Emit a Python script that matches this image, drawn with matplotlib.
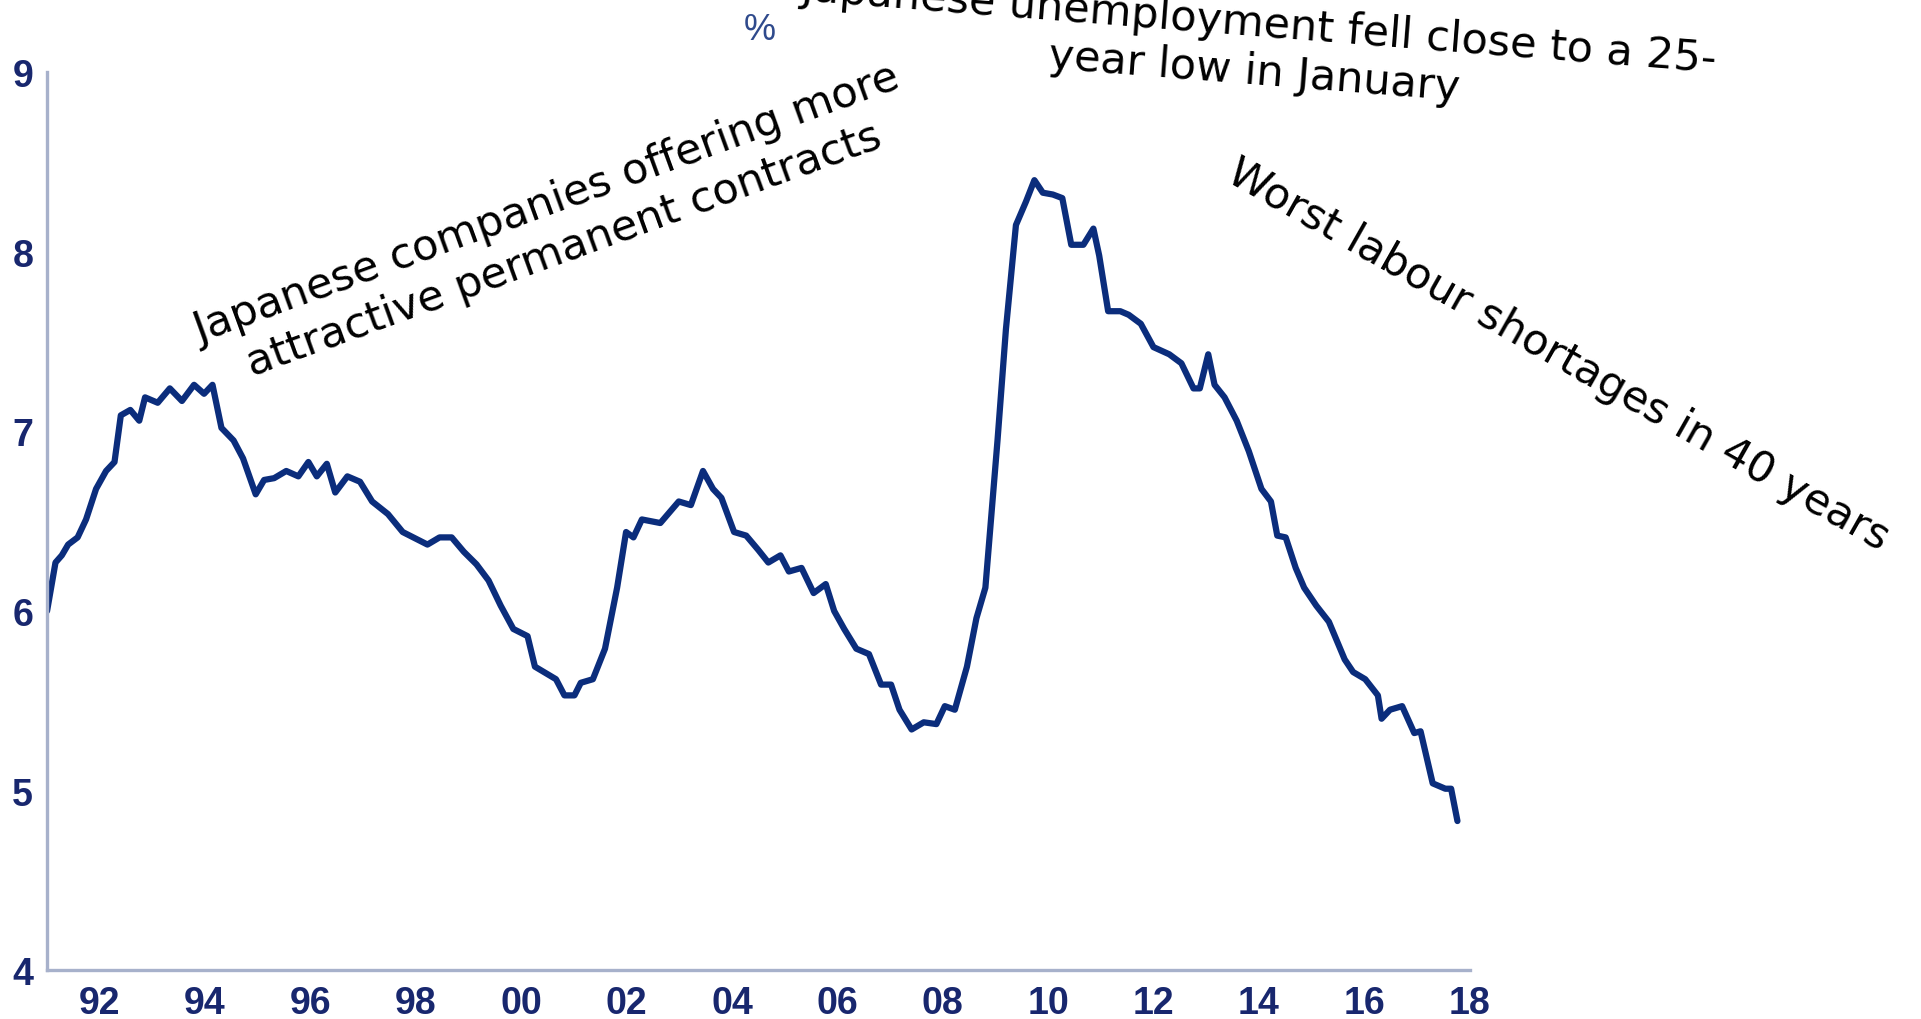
import matplotlib
matplotlib.use("Agg")
import matplotlib.pyplot as plt

# Monthly-ish readings of the rate (%), by decimal year
years = [1991.00, 1991.16, 1991.28, 1991.40, 1991.58, 1991.74, 1991.93, 1992.12, 1992.28, 1992.40,
         1992.58, 1992.75, 1992.86, 1993.10, 1993.33, 1993.56, 1993.79, 1993.98, 1994.14, 1994.31,
         1994.54, 1994.72, 1994.96, 1995.12, 1995.31, 1995.54, 1995.77, 1995.96, 1996.12, 1996.31,
         1996.47, 1996.70, 1996.94, 1997.17, 1997.47, 1997.75, 1998.22, 1998.45, 1998.68, 1998.91,
         1999.15, 1999.38, 1999.61, 1999.85, 2000.12, 2000.26, 2000.43, 2000.66, 2000.82, 2001.01,
         2001.13, 2001.36, 2001.59, 2001.82, 2001.99, 2002.13, 2002.29, 2002.64, 2002.99, 2003.22,
         2003.45, 2003.64, 2003.80, 2004.04, 2004.27, 2004.50, 2004.69, 2004.92, 2005.08, 2005.32,
         2005.55, 2005.78, 2005.94, 2006.13, 2006.36, 2006.60, 2006.83, 2007.02, 2007.18, 2007.41,
         2007.64, 2007.88, 2008.04, 2008.23, 2008.46, 2008.64, 2008.81, 2009.04, 2009.20, 2009.39,
         2009.58, 2009.74, 2009.90, 2010.09, 2010.27, 2010.44, 2010.67, 2010.86, 2010.97, 2011.14,
         2011.37, 2011.53, 2011.76, 2012.00, 2012.30, 2012.53, 2012.76, 2012.88, 2013.04, 2013.16,
         2013.35, 2013.58, 2013.81, 2014.05, 2014.23, 2014.35, 2014.51, 2014.70, 2014.86, 2015.09,
         2015.33, 2015.63, 2015.79, 2016.02, 2016.26, 2016.33, 2016.49, 2016.72, 2016.95, 2017.07,
         2017.30, 2017.54, 2017.65, 2017.77]
rate = [6.00, 6.27, 6.31, 6.37, 6.41, 6.51, 6.68, 6.78, 6.83, 7.09,
        7.12, 7.06, 7.19, 7.16, 7.24, 7.17, 7.26, 7.21, 7.26, 7.02,
        6.95, 6.85, 6.65, 6.73, 6.74, 6.78, 6.75, 6.83, 6.75, 6.82,
        6.66, 6.75, 6.72, 6.61, 6.54, 6.44, 6.37, 6.41, 6.41, 6.33,
        6.26, 6.17, 6.03, 5.90, 5.86, 5.69, 5.66, 5.62, 5.53, 5.53,
        5.60, 5.62, 5.79, 6.13, 6.44, 6.41, 6.51, 6.49, 6.61, 6.59,
        6.78, 6.68, 6.63, 6.44, 6.42, 6.34, 6.27, 6.31, 6.22, 6.24,
        6.10, 6.15, 6.00, 5.90, 5.79, 5.76, 5.59, 5.59, 5.45, 5.34,
        5.38, 5.37, 5.47, 5.45, 5.69, 5.96, 6.13, 6.95, 7.57, 8.15,
        8.28, 8.40, 8.33, 8.32, 8.30, 8.04, 8.04, 8.13, 7.98, 7.67,
        7.67, 7.65, 7.60, 7.47, 7.43, 7.38, 7.24, 7.24, 7.43, 7.26,
        7.19, 7.06, 6.89, 6.68, 6.61, 6.42, 6.41, 6.24, 6.13, 6.03,
        5.94, 5.73, 5.66, 5.62, 5.53, 5.40, 5.45, 5.47, 5.32, 5.33,
        5.04, 5.01, 5.01, 4.83]

xtick_pos = [1992, 1994, 1996, 1998, 2000, 2002, 2004, 2006, 2008, 2010, 2012, 2014, 2016, 2018]
xtick_labels = ["92", "94", "96", "98", "00", "02", "04", "06", "08", "10", "12", "14", "16", "18"]
ytick_pos = [4, 5, 6, 7, 8, 9]
ytick_labels = ["4", "5", "6", "7", "8", "9"]

LINE = "#0b2d7c"
TICK = "#18276e"
SPINE = "#a7b1cb"

fig = plt.figure(figsize=(19.21, 10.20), dpi=100)
ax = fig.add_axes([0.0245, 0.048, 0.7405, 0.880])

ax.plot(years, rate, color=LINE, lw=4.5, solid_joinstyle="round", solid_capstyle="round")

ax.set_xlim(1991, 2018)
ax.set_ylim(4, 9)

for s in ("top", "right"):
    ax.spines[s].set_visible(False)
for s in ("left", "bottom"):
    ax.spines[s].set_color(SPINE)
    ax.spines[s].set_linewidth(2.4)

ax.set_xticks(xtick_pos)
ax.set_xticklabels(xtick_labels, family=["Liberation Sans Narrow", "Liberation Sans"],
                   fontweight="bold", fontsize=27, color=TICK)
ax.set_yticks(ytick_pos)
ax.set_yticklabels(ytick_labels, family="Liberation Sans", fontweight="bold",
                   fontsize=27, color=TICK)
ax.tick_params(axis="x", length=0, pad=11)
ax.tick_params(axis="y", length=0, pad=10)

fig.text(0.3955, 0.970, "%", ha="center", va="center", color="#2f4a8c", fontsize=26,
         family=["Liberation Sans Narrow", "Liberation Sans"])

txt = dict(family="DejaVu Sans", color="black", fontsize=31, ha="center", va="center",
           rotation_mode="anchor", multialignment="center")
fig.text(0.289, 0.777, "Japanese companies offering more\nattractive permanent contracts",
         rotation=20, **txt)
fig.text(0.654, 0.953, "Japanese unemployment fell close to a 25-\nyear low in January",
         rotation=-4.5, **txt)
fig.text(0.811, 0.652, "Worst labour shortages in 40 years", rotation=-29.5, **txt)

fig.savefig("out.png", dpi=100)
